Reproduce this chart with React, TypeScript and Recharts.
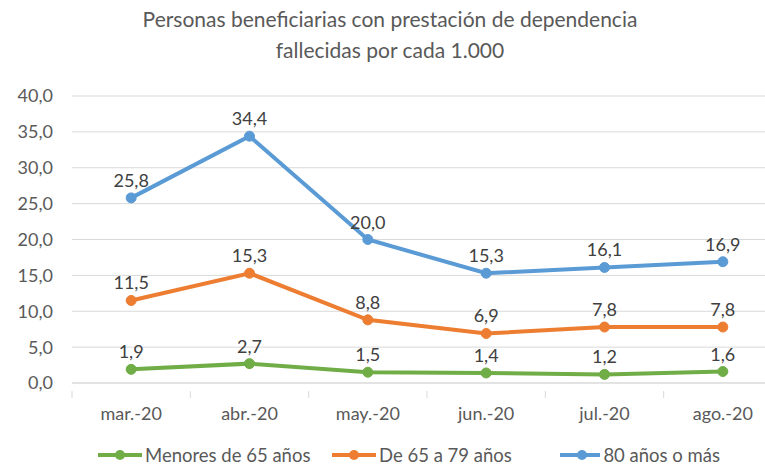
import { LineChart, Line, XAxis, YAxis, CartesianGrid, LabelList } from "recharts"

const months = ["mar.-20", "abr.-20", "may.-20", "jun.-20", "jul.-20", "ago.-20"]
const menores65 = [1.9, 2.7, 1.5, 1.4, 1.2, 1.6]
const de65a79 = [11.5, 15.3, 8.8, 6.9, 7.8, 7.8]
const mas80 = [25.8, 34.4, 20.0, 15.3, 16.1, 16.9]
const yTicks = [0, 5, 10, 15, 20, 25, 30, 35, 40]

const series = [
  { key: "menores", name: "Menores de 65 años", color: "#70AD47" },
  { key: "medio", name: "De 65 a 79 años", color: "#ED7D31" },
  { key: "mayores", name: "80 años o más", color: "#5B9BD5" },
]

const data = months.map((m, i) => ({
  month: m,
  menores: menores65[i],
  medio: de65a79[i],
  mayores: mas80[i],
}))

const FONT = "Lato, 'Noto Sans', sans-serif"
const TEXT = "#595959"
const fmt = (v: number) => v.toFixed(1).replace(".", ",")

const W = 800
const H = 465
const PLOT_LEFT = 72
const PLOT_RIGHT = 782
const BAND = (PLOT_RIGHT - PLOT_LEFT) / months.length

// category label + Excel-style tick marks between categories
function MonthTick(props: any) {
  const { x, y, payload, index } = props
  const left = x - BAND / 2
  return (
    <g>
      <line x1={left} x2={left} y1={y} y2={y + 7} stroke="#D9D9D9" />
      {index === months.length - 1 && (
        <line x1={x + BAND / 2} x2={x + BAND / 2} y1={y} y2={y + 7} stroke="#D9D9D9" />
      )}
      <text x={x} y={y + 29} textAnchor="middle" fill={TEXT} fontSize={18} fontFamily={FONT}>
        {payload.value}
      </text>
    </g>
  )
}

const legendWidths = [234, 228, 160]

function LegendRow() {
  return (
    <div
      style={{
        position: "absolute",
        left: 98,
        top: 443,
        display: "flex",
        alignItems: "center",
        fontFamily: FONT,
        fontSize: 18.5,
        lineHeight: "24px",
        color: TEXT,
        whiteSpace: "nowrap",
      }}
    >
      {series.map((s, i) => (
        <div key={s.key} style={{ display: "flex", alignItems: "center", width: legendWidths[i] }}>
          <svg width={44} height={14} style={{ marginRight: 3 }}>
            <line x1={0} x2={44} y1={7} y2={7} stroke={s.color} strokeWidth={4} />
            <circle cx={22} cy={7} r={5} fill={s.color} />
          </svg>
          <span>{s.name}</span>
        </div>
      ))}
    </div>
  )
}

export default function App() {
  return (
    <div style={{ position: "fixed", left: 0, top: 0, width: 765, height: 465, overflow: "hidden", background: "#fff" }}>
      <div
        style={{
          position: "absolute",
          left: 0,
          top: 3,
          width: 780,
          textAlign: "center",
          fontFamily: FONT,
          fontSize: 21,
          lineHeight: "31px",
          color: TEXT,
        }}
      >
        Personas beneficiarias con prestación de dependencia
        <br />
        fallecidas por cada 1.000
      </div>
      <div style={{ position: "absolute", left: 0, top: 0 }}>
        <LineChart width={W} height={H} data={data} margin={{ top: 96, right: W - PLOT_RIGHT, bottom: 0, left: 0 }}>
          <CartesianGrid vertical={false} stroke="#D9D9D9" />
          <XAxis
            dataKey="month"
            padding={{ left: BAND / 2, right: BAND / 2 }}
            stroke="#D9D9D9"
            tickLine={false}
            tick={<MonthTick />}
            interval={0}
            height={82}
          />
          <YAxis
            width={PLOT_LEFT}
            domain={[0, 40]}
            ticks={yTicks}
            interval={0}
            axisLine={false}
            tickLine={false}
            tickSize={0}
            tickMargin={19}
            tickFormatter={fmt}
            tick={{ fill: TEXT, fontSize: 18, fontFamily: FONT }}
          />
          {series.map((s) => (
            <Line
              key={s.key}
              dataKey={s.key}
              name={s.name}
              stroke={s.color}
              strokeWidth={4}
              dot={{ r: 5, fill: s.color, stroke: s.color, strokeWidth: 1 }}
              isAnimationActive={false}
            >
              <LabelList
                dataKey={s.key}
                position="top"
                offset={11}
                formatter={(v: any) => fmt(Number(v))}
                style={{ fill: "#404040", fontSize: 18, fontFamily: FONT }}
              />
            </Line>
          ))}
        </LineChart>
      </div>
      <LegendRow />
    </div>
  )
}
